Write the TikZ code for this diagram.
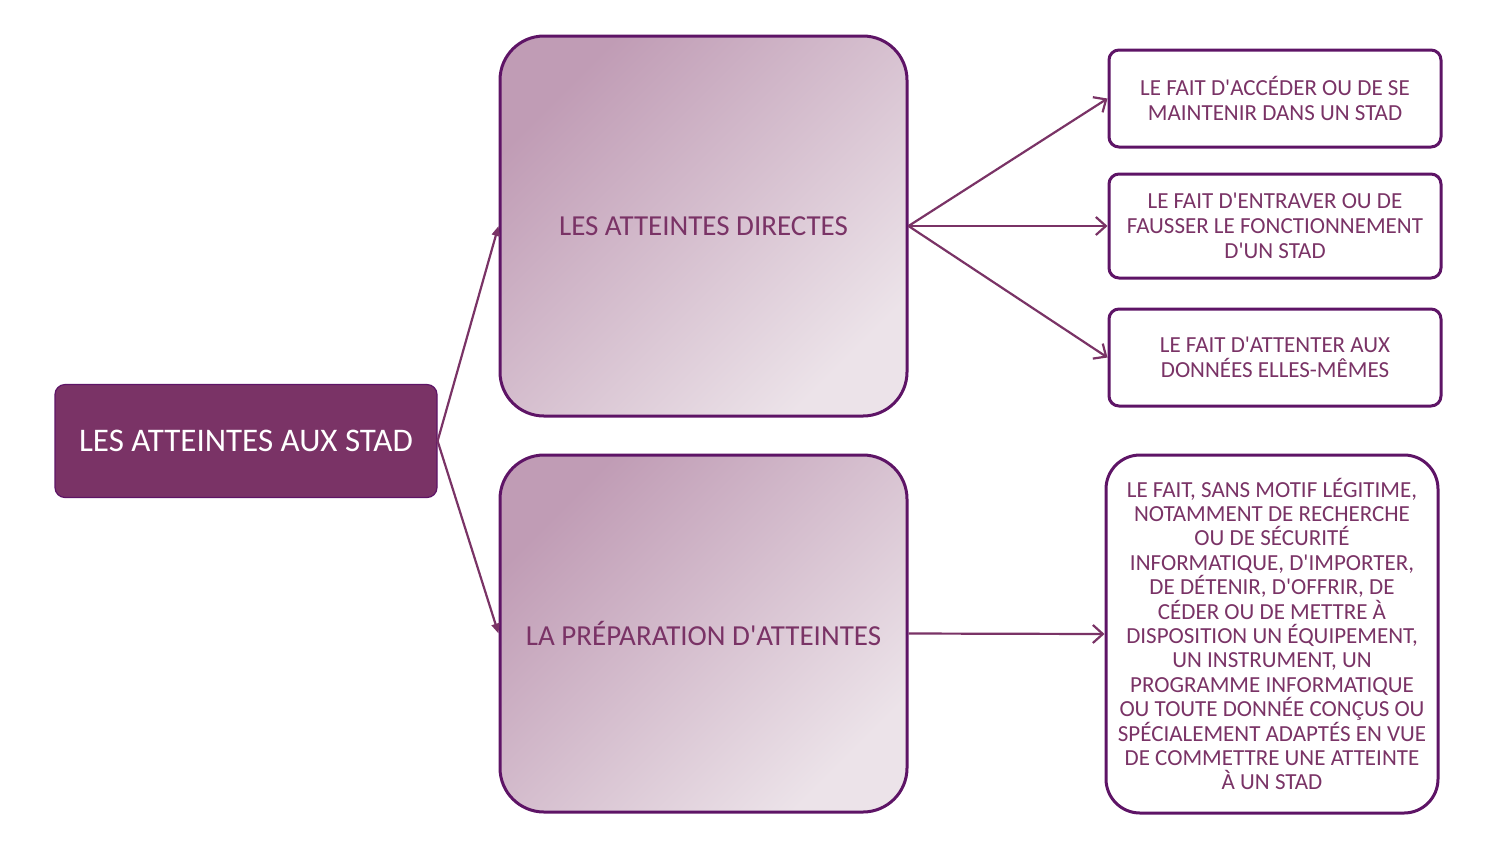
\documentclass[tikz,border=0pt]{standalone}
\usepackage{fontspec}
\setmainfont{Carlito}[Ligatures=TeXOff]
\usetikzlibrary{arrows.meta}
\definecolor{plum}{HTML}{7A3366}
\definecolor{plumedge}{HTML}{5E1466}
\definecolor{shadetop}{HTML}{C09CB5}
\definecolor{shadebot}{HTML}{ECE3E9}
\begin{document}
\begin{tikzpicture}[x=0.5pt,y=-0.5pt,
  root/.style={draw=plumedge, line width=0.6pt, fill=plum, text=white, rounded corners=5pt,
    minimum width=191pt, minimum height=56.5pt, font=\fontsize{16.5}{19}\selectfont},
  branch/.style={draw=plumedge, line width=1.5pt, top color=shadetop, bottom color=shadebot,
    shading angle=45, rounded corners=22pt, text=plum, minimum width=203.5pt,
    font=\fontsize{14.5}{17}\selectfont},
  leaf/.style={draw=plumedge, line width=1.5pt, fill=white, rounded corners=5pt, text=plum,
    align=center, minimum width=166pt, inner sep=2pt, font=\fontsize{11.5}{12.5}\selectfont},
  split/.style={draw=plum, line width=1.1pt, -{Triangle[length=5pt,width=4pt]}},
  link/.style={draw=plum, line width=1.1pt, -{Straight Barb[length=5pt,width=9pt,line width=1.1pt]}}]
\useasboundingbox (0,0) rectangle (1510,848);
% main node
\node[root] (stad) at (246,441) {LES ATTEINTES AUX STAD};
% two families
\node[branch, minimum height=190pt] (directes) at (703.5,226) {LES ATTEINTES DIRECTES};
\node[branch, minimum height=178.5pt] (prepa) at (703.5,633.5) {LA PRÉPARATION D'ATTEINTES};
% the offences
\node[leaf, minimum height=48.5pt] (acces) at (1275,98.5) {LE FAIT D'ACCÉDER OU DE SE\\MAINTENIR DANS UN STAD};
\node[leaf, minimum height=52pt] (entrave) at (1275,226) {LE FAIT D'ENTRAVER OU DE\\FAUSSER LE FONCTIONNEMENT\\D'UN STAD};
\node[leaf, minimum height=48.5pt] (donnees) at (1275,357.5) {LE FAIT D'ATTENTER AUX\\DONNÉES ELLES-MÊMES};
\node[leaf, rounded corners=17pt, minimum height=179pt, font=\fontsize{11.5}{12.2}\selectfont] (outils) at (1272,634)
  {LE FAIT, SANS MOTIF LÉGITIME,\\NOTAMMENT DE RECHERCHE\\OU DE SÉCURITÉ\\INFORMATIQUE, D'IMPORTER,\\DE DÉTENIR, D'OFFRIR, DE\\CÉDER OU DE METTRE À\\DISPOSITION UN ÉQUIPEMENT,\\UN INSTRUMENT, UN\\PROGRAMME INFORMATIQUE\\OU TOUTE DONNÉE CONÇUS OU\\SPÉCIALEMENT ADAPTÉS EN VUE\\DE COMMETTRE UNE ATTEINTE\\À UN STAD};
% connectors
\draw[split] (stad.east) -- (directes.west);
\draw[split] (stad.east) -- (prepa.west);
\draw[link] (directes.east) -- (acces.west);
\draw[link] (directes.east) -- (entrave.west);
\draw[link] (directes.east) -- (donnees.west);
\draw[link] (prepa.east) -- (outils.west);
\end{tikzpicture}
\end{document}
